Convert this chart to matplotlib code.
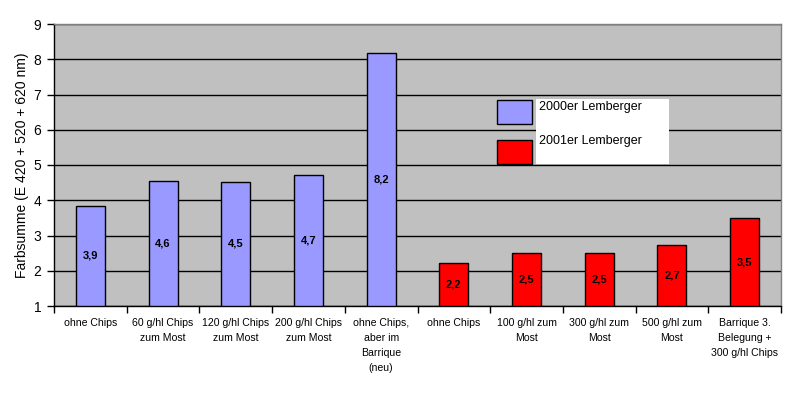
import matplotlib
matplotlib.use("Agg")
import matplotlib.pyplot as plt
from matplotlib.patches import Rectangle
import numpy as np

plt.rcParams['font.family'] = ['Liberation Sans', 'DejaVu Sans']

categories = ["ohne Chips", "60 g/hl Chips\nzum Most", "120 g/hl Chips\nzum Most",
              "200 g/hl Chips\nzum Most", "ohne Chips,\naber im\nBarrique\n(neu)",
              "ohne Chips", "100 g/hl zum\nMost", "300 g/hl zum\nMost",
              "500 g/hl zum\nMost", "Barrique 3.\nBelegung +\n300 g/hl Chips"]
values_2000 = [3.84, 4.55, 4.52, 4.72, 8.17]
labels_2000 = ["3,9", "4,6", "4,5", "4,7", "8,2"]
values_2001 = [2.21, 2.49, 2.49, 2.73, 3.49]
labels_2001 = ["2,2", "2,5", "2,5", "2,7", "3,5"]
series_names = ["2000er Lemberger", "2001er Lemberger"]
y_label = "Farbsumme (E 420 + 520 + 620 nm)"

blue = "#9999FF"
red = "#FF0000"

fig = plt.figure(figsize=(7.96, 3.93), dpi=100)
ax = fig.add_axes([54/796, 1-306/393, (781-54)/796, (306-24)/393])
ax.set_facecolor("#C0C0C0")

x1 = np.arange(len(values_2000))
x2 = np.arange(len(values_2001)) + len(values_2000)
base = 1
ax.bar(x1, np.array(values_2000) - base, bottom=base, width=0.4,
       color=blue, edgecolor="black", linewidth=1.0, zorder=3)
ax.bar(x2, np.array(values_2001) - base, bottom=base, width=0.4,
       color=red, edgecolor="black", linewidth=1.0, zorder=3)

for xs, vals, labs in [(x1, values_2000, labels_2000), (x2, values_2001, labels_2001)]:
    for x, v, l in zip(xs, vals, labs):
        ax.text(x, (v + base) / 2, l, ha="center", va="center", fontsize=8,
                fontweight="bold", color="black", zorder=4)

n = len(categories)
ax.set_xlim(-0.5, n - 0.5)
ax.set_ylim(1, 9)
ax.set_yticks(range(1, 10))
ax.tick_params(axis="y", direction="out", length=5, width=1, labelsize=10, pad=4)
ax.yaxis.grid(True, color="black", linewidth=1.0, zorder=1)
ax.set_axisbelow(True)

ax.set_xticks(np.arange(n + 1) - 0.5)
ax.set_xticklabels([])
ax.tick_params(axis="x", which="major", direction="out", length=5, width=1)
ax.set_xticks(np.arange(n), minor=True)
ax.set_xticklabels(categories, minor=True, fontsize=7.6, linespacing=1.6, va="top")
ax.tick_params(axis="x", which="minor", length=0, pad=9)

ax.set_ylabel(y_label, fontsize=10, labelpad=3)

for s in ["left", "bottom"]:
    ax.spines[s].set_color("black")
    ax.spines[s].set_linewidth(1.0)
for s in ["top", "right"]:
    ax.spines[s].set_color("#808080")
    ax.spines[s].set_linewidth(1.0)

# Legend drawn as in the reference
fw, fh = 796, 393
def fr(x0, y0, x1_, y1_, **kw):
    return Rectangle((x0/fw, 1-y1_/fh), (x1_-x0)/fw, (y1_-y0)/fh,
                     transform=fig.transFigure, **kw)
fig.patches.append(fr(536, 99, 669, 164, facecolor="white", edgecolor="none", zorder=5))
fig.patches.append(fr(497, 99.5, 532, 123.5, facecolor=blue, edgecolor="black", linewidth=1, zorder=6))
fig.patches.append(fr(497, 140, 532, 164, facecolor=red, edgecolor="black", linewidth=1, zorder=6))
fig.text(539/fw, 1-107/fh, series_names[0], fontsize=9, va="center", ha="left", zorder=7)
fig.text(539/fw, 1-141/fh, series_names[1], fontsize=9, va="center", ha="left", zorder=7)

fig.savefig("out.png", dpi=100)
